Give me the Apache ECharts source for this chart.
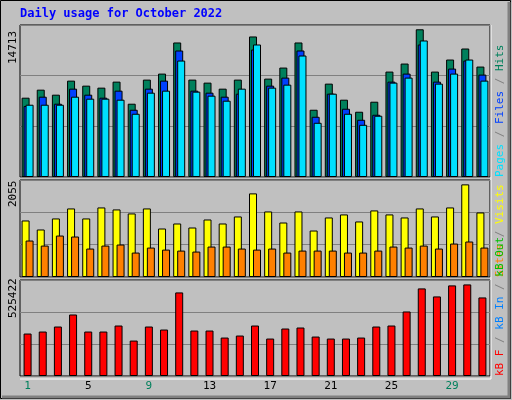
<!DOCTYPE html>
<html><head><meta charset="utf-8">
<script src="https://cdn.jsdelivr.net/npm/echarts@6/dist/echarts.min.js"></script>
<style>html,body{margin:0;padding:0;background:#c0c0c0}#c{width:512px;height:400px}</style>
</head><body><div id="c"></div>
<script>
const days = ['1','2','3','4','5','6','7','8','9','10','11','12','13','14','15','16','17','18','19','20','21','22','23','24','25','26','27','28','29','30','31'];
const weekend = ['1','2','8','9','15','16','22','23','29','30'];
const hits  = [7900,8700,8200,9600,9100,8900,9500,7300,9700,10300,13400,9700,9400,8800,9700,14000,9800,10900,13400,6700,9300,7700,6500,7500,10500,11300,14713,10500,11700,12800,11000];
const files = [7070,8000,7300,8800,8200,7900,8600,6700,8800,9600,12600,8600,8400,8000,8300,12700,9100,9900,12600,6000,8300,6800,5700,6200,9500,10300,13200,9500,10800,11600,10200];
const pages = [7200,7200,7200,8000,7800,7800,7700,6300,8400,8600,11600,8500,8100,7600,8800,13200,8900,9200,12100,5400,8300,6300,5200,6100,9400,9900,13600,9300,10300,11700,9600];
const visits = [1254,1054,1299,1521,1299,1543,1499,1410,1521,1076,1187,1098,1276,1187,1343,1855,1454,1209,1454,1031,1321,1388,1232,1477,1388,1321,1521,1343,1543,2055,1432];
const sites = [809,697,920,898,631,697,720,542,653,608,586,564,675,675,631,608,631,542,586,586,586,542,542,586,675,653,697,631,742,787,653];
const kbytes = [243600,255100,283900,352900,255100,255100,289600,203300,283900,266600,479500,260800,260800,220600,232100,289600,214800,272400,278100,226300,214800,214800,220600,283900,289600,370200,502500,456500,519800,525422,450700];
const maxLabels = ['14713','2055','525422'];

const F = 'DejaVu Sans Mono';
const grids = [
  {left:20, width:470, top:25, height:152},
  {left:20, width:470, top:180, height:97},
  {left:20, width:470, top:280, height:96}
];
const maxes = [15141, 2152, 550800];
const bs = c => ({color:c, borderColor:'#000', borderWidth:1});
function xa(i){
  return {type:'category', gridIndex:i, data:days, boundaryGap:true,
    axisLine:{show:false}, axisTick:{show:false},
    axisLabel: i===2 ? {show:true, margin:5, fontFamily:F, fontSize:11,
      formatter:v=> weekend.includes(v)?'{w|'+v+'}':'{n|'+v+'}',
      rich:{w:{color:'#00805c',fontFamily:F,fontSize:11}, n:{color:'#000',fontFamily:F,fontSize:11}}} : {show:false}};
}
function ya(i){
  return {type:'value', gridIndex:i, min:0, max:maxes[i], interval:maxes[i]/3,
    axisLabel:{show:false}, axisLine:{show:false}, axisTick:{show:false},
    splitLine:{show:true, lineStyle:{color:'#808080', width:1}}};
}
const chart = echarts.init(document.getElementById('c'), null, {renderer:'canvas'});
chart.setOption({
  animation:false, backgroundColor:'#c0c0c0',
  grid: grids.map(g=>Object.assign({show:true, borderColor:'#000', borderWidth:1, backgroundColor:'transparent'}, g)),
  xAxis:[xa(0),xa(1),xa(2)],
  yAxis:[ya(0),ya(1),ya(2)],
  series:[
    {type:'bar', xAxisIndex:0, yAxisIndex:0, data:hits, barWidth:8, barGap:'-75%', itemStyle:bs('#00805c')},
    {type:'bar', xAxisIndex:0, yAxisIndex:0, data:files, barWidth:8, barGap:'-75%', itemStyle:bs('#0040ff')},
    {type:'bar', xAxisIndex:0, yAxisIndex:0, data:pages, barWidth:8, barGap:'-75%', itemStyle:bs('#00e0ff')},
    {type:'bar', xAxisIndex:1, yAxisIndex:1, data:visits, barWidth:8, barGap:'-50%', itemStyle:bs('#ffff00')},
    {type:'bar', xAxisIndex:1, yAxisIndex:1, data:sites, barWidth:8, barGap:'-50%', itemStyle:bs('#ff8000')},
    {type:'bar', xAxisIndex:2, yAxisIndex:2, data:kbytes, barWidth:8, barCategoryGap:'47%', itemStyle:bs('#ff0000')}
  ],
  graphic:[
    {type:'rect', shape:{x:0.5,y:0.5,width:510,height:398}, style:{fill:'none', stroke:'#000', lineWidth:1}, z:-1},
    {type:'polyline', shape:{points:[[2,397],[509,397],[509,2]]}, style:{stroke:'#808080', lineWidth:3, fill:'none'}},
    {type:'polyline', shape:{points:[[20,379],[491,379],[491,25]]}, style:{stroke:'#fff', lineWidth:1, fill:'none'}},
    {type:'text', left:20, top:8, style:{text:'Daily usage for October 2022', fill:'#0000ff', font:'bold 12px "DejaVu Sans Mono"'}},
    {type:'text', x:8, y:64, rotation:Math.PI/2, style:{text:maxLabels[0], fill:'#000', font:'11px "DejaVu Sans Mono"'}},
    {type:'text', x:8, y:207, rotation:Math.PI/2, style:{text:maxLabels[1], fill:'#000', font:'11px "DejaVu Sans Mono"'}},
    {type:'text', x:8, y:318, rotation:Math.PI/2, style:{text:maxLabels[2], fill:'#000', font:'11px "DejaVu Sans Mono"'}},
    {type:'text', x:495, y:177, rotation:Math.PI/2, style:{rich:{a:{fill:'#00e0ff'},b:{fill:'#808080'},c:{fill:'#0040ff'},d:{fill:'#00805c'}}, text:'{a|Pages}{b| / }{c|Files}{b| / }{d|Hits}', font:'11px "DejaVu Sans Mono"'}},
    {type:'text', x:495, y:277, rotation:Math.PI/2, style:{rich:{a:{fill:'#ff8000'},b:{fill:'#808080'},c:{fill:'#ffff00'}}, text:'{a|Sites}{b| / }{c|Visits}', font:'11px "DejaVu Sans Mono"'}},
    {type:'text', x:495, y:376, rotation:Math.PI/2, style:{rich:{a:{fill:'#ff0000'},b:{fill:'#808080'},c:{fill:'#0080ff'},d:{fill:'#00c000'}}, text:'{a|kB F}{b| / }{c|kB In}{b| / }{d|kB Out}', font:'11px "DejaVu Sans Mono"'}}
  ]
});
</script></body></html>
